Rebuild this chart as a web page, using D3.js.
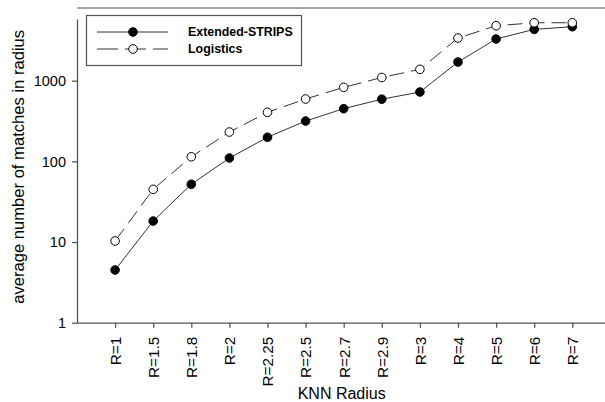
<!DOCTYPE html>
<html lang="en">
<head>
<meta charset="utf-8">
<title>KNN Radius</title>
<script src="https://cdn.jsdelivr.net/npm/d3@7"></script>
<style>
  body { margin: 0; background: #fff; }
</style>
</head>
<body>
<script>

// -- Data -- //

const radii = ["R=1", "R=1.5", "R=1.8", "R=2", "R=2.25", "R=2.5", "R=2.7", "R=2.9", "R=3", "R=4", "R=5", "R=6", "R=7"];
const extendedStrips = [4.5, 18.2, 52, 110, 199, 316, 450, 590, 724, 1705, 3290, 4330, 4670];
const logistics = [10.3, 45, 114, 231, 406, 593, 828, 1096, 1384, 3380, 4800, 5230, 5230];
const yTicks = [1, 10, 100, 1000];

// -- Setting -- //

const width = 605, height = 402;
const plotLeft = 77, plotRight = 610.4, plotTop = 19, plotBottom = 322.7;
const font = "Liberation Sans, Arial, sans-serif";

const svg = d3.select("body").append("svg")
    .attr("width", width)
    .attr("height", height);

const x = d3.scalePoint()
    .domain(radii)
    .range([plotLeft, plotRight])
    .padding(1);

const y = d3.scaleLog()
    .domain([1, 5820])
    .range([plotBottom, plotTop]);

const axisColor = "#555";

// top frame line
svg.append("line")
    .attr("x1", plotLeft).attr("x2", width)
    .attr("y1", 8).attr("y2", 8)
    .attr("stroke", "#888").attr("stroke-width", 1.3);

// -- Axes -- //

const gx = svg.append("g")
    .attr("transform", `translate(0,${plotBottom})`)
    .call(d3.axisBottom(x).tickSize(5).tickSizeOuter(0));
gx.select(".domain").attr("stroke", axisColor).attr("stroke-width", 1.3);
gx.selectAll(".tick line").attr("stroke", axisColor).attr("stroke-width", 1.3);
gx.selectAll(".tick text")
    .attr("font-family", font)
    .attr("font-size", 15.3)
    .attr("fill", "#000")
    .attr("text-anchor", "end")
    .attr("transform", "rotate(-90)")
    .attr("x", -14)
    .attr("y", 0)
    .attr("dy", "0.35em");

const gy = svg.append("g")
    .attr("transform", `translate(${plotLeft},0)`)
    .call(d3.axisLeft(y).tickValues(yTicks).tickFormat(d3.format("d")).tickSize(5).tickSizeOuter(0));
gy.select(".domain").attr("stroke", axisColor).attr("stroke-width", 1.3);
gy.selectAll(".tick line").attr("stroke", axisColor).attr("stroke-width", 1.3);
gy.selectAll(".tick text")
    .attr("font-family", font)
    .attr("font-size", 14.5)
    .attr("fill", "#000")
    .attr("x", -11);

// axis titles
svg.append("text")
    .attr("x", (plotLeft + plotRight) / 2 - 2)
    .attr("y", 398.5)
    .attr("text-anchor", "middle")
    .attr("font-family", font)
    .attr("font-size", 16)
    .text("KNN Radius");

svg.append("text")
    .attr("transform", `translate(18,${(plotTop + plotBottom) / 2 - 4}) rotate(-90)`)
    .attr("text-anchor", "middle")
    .attr("dominant-baseline", "central")
    .attr("font-family", font)
    .attr("font-size", 16.6)
    .text("average number of matches in radius");

// -- Series -- //

const series = [
    { name: "Extended-STRIPS", values: extendedStrips, fill: "#000", dash: null },
    { name: "Logistics", values: logistics, fill: "#fff", dash: "15,7" }
];

const line = d3.line()
    .x((d, i) => x(radii[i]))
    .y(d => y(d));

series.forEach(function(s) {
    svg.append("path")
        .datum(s.values)
        .attr("fill", "none")
        .attr("stroke", "#333")
        .attr("stroke-width", 1)
        .attr("stroke-dasharray", s.dash)
        .attr("d", line);
});

series.forEach(function(s) {
    svg.append("g")
        .selectAll("circle")
        .data(s.values)
        .join("circle")
            .attr("cx", (d, i) => x(radii[i]))
            .attr("cy", d => y(d))
            .attr("r", 4.3)
            .attr("fill", s.fill)
            .attr("stroke", "#000")
            .attr("stroke-width", 1);
});

// -- Legend -- //

const legend = svg.append("g");
legend.append("rect")
    .attr("x", 86.5).attr("y", 15.5)
    .attr("width", 215).attr("height", 50)
    .attr("fill", "#fff")
    .attr("stroke", "#555")
    .attr("stroke-width", 1.2);

series.forEach(function(s, i) {
    const ly = 32 + i * 17;
    legend.append("line")
        .attr("x1", 97).attr("x2", 168)
        .attr("y1", ly).attr("y2", ly)
        .attr("stroke", "#333")
        .attr("stroke-dasharray", s.dash ? "21,7" : null);
    legend.append("circle")
        .attr("cx", 133).attr("cy", ly)
        .attr("r", 4.3)
        .attr("fill", s.fill)
        .attr("stroke", "#000");
    legend.append("text")
        .attr("x", 188).attr("y", ly)
        .attr("dy", "0.35em")
        .attr("font-family", font)
        .attr("font-size", 12.4)
        .attr("font-weight", "bold")
        .text(s.name);
});

</script>
</body>
</html>
